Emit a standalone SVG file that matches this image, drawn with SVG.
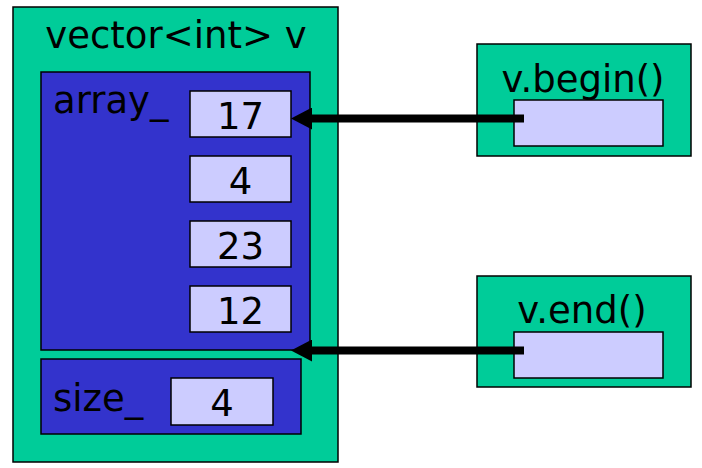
<svg xmlns="http://www.w3.org/2000/svg" width="702" height="468" viewBox="0 0 702 468">
<style>
.g{fill:#00CC99;stroke:#000;stroke-width:1.5}
.b{fill:#3333CC;stroke:#000;stroke-width:1.5}
.c{fill:#CCCCFF;stroke:#000;stroke-width:1.5}
text{font-family:"DejaVu Sans",sans-serif;font-size:37px;fill:#000}
.m{text-anchor:middle}
.conn{stroke:#000;stroke-width:8;fill:none}
</style>
<defs>
<marker id="ah" markerUnits="userSpaceOnUse" markerWidth="22" markerHeight="22" refX="0" refY="11" orient="auto" viewBox="0 0 22 22">
<path d="M0,0 L21,11 L0,22 Z" fill="#000"/>
</marker>
</defs>
<rect width="702" height="468" fill="#fff"/>
<g id="vector">
<rect class="g" x="13" y="7" width="325" height="455"/>
<text class="m" x="176" y="48">vector&lt;int&gt; v</text>
</g>
<g id="array">
<rect class="b" x="41" y="72" width="269" height="278"/>
<text x="53" y="113">array_</text>
</g>
<g id="cell17">
<rect class="c" x="190" y="91" width="101" height="46"/>
<text class="m" x="240.5" y="129">17</text>
</g>
<g id="cell4">
<rect class="c" x="190" y="156" width="101" height="46"/>
<text class="m" x="240.5" y="193.5">4</text>
</g>
<g id="cell23">
<rect class="c" x="190" y="221" width="101" height="46"/>
<text class="m" x="240.5" y="258.5">23</text>
</g>
<g id="cell12">
<rect class="c" x="190" y="286" width="101" height="46"/>
<text class="m" x="240.5" y="323.5">12</text>
</g>
<g id="size">
<rect class="b" x="41" y="359" width="260" height="75"/>
<text x="53" y="411">size_</text>
<rect class="c" x="171" y="378" width="102" height="47"/>
<text class="m" x="222" y="416">4</text>
</g>
<g id="begin">
<rect class="g" x="477" y="44" width="214" height="112"/>
<text class="m" x="583" y="92">v.begin()</text>
<rect class="c" x="514" y="100" width="149" height="46"/>
</g>
<g id="end">
<rect class="g" x="477" y="276" width="214" height="111"/>
<text class="m" x="582" y="323">v.end()</text>
<rect class="c" x="514" y="332" width="149" height="46"/>
</g>
<g id="connectors">
<line class="conn" x1="524" y1="118.5" x2="312" y2="118.5" marker-end="url(#ah)"/>
<line class="conn" x1="524" y1="350.5" x2="312" y2="350.5" marker-end="url(#ah)"/>
</g>
</svg>
